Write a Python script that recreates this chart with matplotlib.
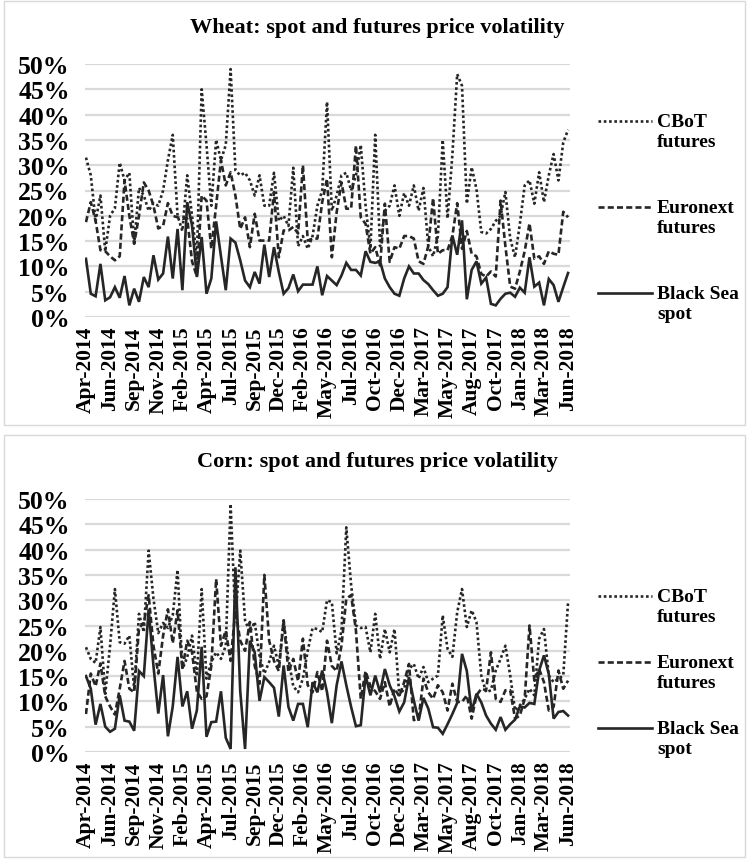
import numpy as np
import matplotlib
matplotlib.use("Agg")
import matplotlib.pyplot as plt
from matplotlib.lines import Line2D
from matplotlib.patches import Rectangle

# ---- semi-monthly observations, Apr-2014 .. Jun-2018 (volatility, %) ----
tick_labels = ["Apr-2014", "Jun-2014", "Sep-2014", "Nov-2014", "Feb-2015", "Apr-2015",
               "Jul-2015", "Sep-2015", "Dec-2015", "Feb-2016", "May-2016", "Jul-2016",
               "Oct-2016", "Dec-2016", "Mar-2017", "May-2017", "Aug-2017", "Oct-2017",
               "Jan-2018", "Mar-2018", "Jun-2018"]

wheat_cbot = [31.5, 28, 19, 24, 13, 20, 21.5, 30.5, 27, 28.5, 14.5, 25.5, 24, 21, 22.5, 22,
              25, 31, 36, 20, 17, 28, 20, 11.5, 45, 34, 22, 35, 31, 34, 49, 29, 28, 28.5,
              27, 24, 28, 22, 22, 28.5, 19, 20, 18, 29.5, 14, 16, 13.5, 16, 22, 25, 42.5,
              21, 24, 28, 28.5, 25, 28, 34, 22, 13.5, 36, 14, 21, 22, 26, 20, 24.5, 22, 26,
              21, 25.5, 14, 12, 16, 35, 19.5, 32, 48, 45.7, 22.4, 29.6, 25.3, 16.8, 16.5,
              17.4, 19, 20, 24.7, 15.5, 11.8, 18.4, 26, 27, 22.4, 28.6, 22.7, 28, 32.2, 27,
              34.5, 37]
wheat_euronext = [18.75, 22.7, 19, 13.2, 13, 12, 11.2, 12, 27, 20, 14.5, 20, 26.6, 25, 22,
                  17.5, 18, 22.5, 20, 19.7, 19.4, 19.5, 11, 8, 24, 23, 13.5, 22, 31, 26,
                  28.6, 24, 17.4, 19.7, 13.8, 20.4, 15.1, 15.1, 15.1, 24.7, 11.8, 17.1,
                  17.1, 17.8, 16.5, 30, 15.1, 15.5, 15.5, 22.7, 27.3, 11.8, 20.7, 26.6,
                  21.4, 21.4, 33.9, 19.7, 18.4, 12.5, 13.8, 10.2, 22.4, 10.9, 13.8, 13.5,
                  16, 16, 15.5, 11, 10.5, 14, 23.5, 12.5, 13.2, 13.2, 16, 22.5, 13.5, 17,
                  12.5, 12, 8.5, 8, 9, 8, 23, 14, 6, 5.6, 9, 13, 18.5, 11.5, 12, 10.5, 13,
                  12.5, 12.3, 20.8, 19.7]
wheat_blacksea = [11.5, 4.6, 4.1, 10.5, 3.3, 3.9, 5.9, 3.8, 8.1, 2.3, 5.6, 3.0, 7.9, 5.9,
                  12.2, 7.4, 8.6, 15.9, 7.6, 17.4, 5.3, 22.7, 18.1, 7.9, 15.8, 4.6, 7.6,
                  18.9, 12.0, 5.3, 15.5, 14.7, 11.2, 7.2, 5.9, 8.9, 6.6, 14.3, 7.9, 13.8,
                  8.9, 4.6, 5.7, 8.4, 5.1, 6.4, 6.4, 6.4, 10.0, 4.3, 8.1, 7.2, 6.3, 8.2,
                  10.7, 9.3, 9.3, 8.2, 13.0, 10.9, 10.7, 11.0, 7.6, 5.9, 4.6, 4.2, 7.6,
                  10.0, 8.6, 8.6, 7.3, 6.5, 5.3, 4.2, 4.6, 5.9, 16.1, 12.3, 19.1, 3.5, 9.3,
                  11.0, 6.6, 7.8, 2.6, 2.3, 3.6, 4.6, 4.8, 4.0, 5.8, 4.8, 11.8, 6.0, 6.8,
                  2.3, 7.5, 6.3, 3.0, 5.9, 8.7]

corn_cbot = [20.7, 18.4, 17.6, 24.7, 11.5, 21, 32.2, 21.7, 21.4, 23, 12.5, 27.3, 23.7,
             39.8, 30.3, 23.5, 25.5, 24.5, 27, 36, 16.4, 18.7, 23, 15, 32.2, 14.5, 17.8,
             19.7, 18.4, 21, 49, 26, 39.8, 26, 23.7, 25.7, 19, 15.5, 17.8, 21, 17, 26,
             18.4, 13, 11.8, 14.5, 20, 24.5, 24.3, 23.7, 30, 29.6, 19.5, 24, 44.4, 33, 25,
             24.5, 24.7, 19.7, 27.3, 18.4, 24.3, 19.7, 24.3, 11.2, 12.5, 16.4, 17.4,
             14.5, 16.8, 13.8, 14.5, 15.1, 27, 20.4, 18.8, 27.6, 32.2, 24.7, 28, 25.7,
             15.1, 11.8, 12.2, 16.1, 18.4, 21, 15.1, 8.2, 9.2, 10.5, 12.5, 11.2, 22.4,
             24.3, 15.1, 13.8, 14.5, 15.1, 29.6]
corn_euronext = [7.5, 15.5, 13, 17.5, 11, 9, 7.4, 12.5, 18, 12.5, 11.8, 24.5, 25.5, 31,
                 21, 15.5, 23, 28.2, 21.5, 28, 16.4, 22, 19.7, 12, 10.5, 11, 17, 34.2, 21,
                 24, 18, 28, 22, 20, 25.7, 17, 13.5, 35, 22, 18, 16, 26, 15.8, 18.4, 14,
                 22.4, 13.2, 11.8, 15.8, 12, 22, 17, 16, 21, 30.3, 31, 24, 10.5, 16, 13,
                 12, 10.5, 13.8, 9, 12.5, 11, 13.8, 17.4, 6.3, 6.6, 14.5, 11.8, 10.5, 13.2,
                 11.8, 8.2, 13.5, 9.9, 9.9, 11.2, 6.6, 11.2, 12.5, 12.2, 19.7, 10.5, 9.9,
                 12.2, 12.2, 6.6, 7.2, 10.5, 25, 14.1, 16.4, 13.8, 8.2, 8.9, 16.1, 12.5,
                 14.1]
corn_blacksea = [15, 12.5, 5.4, 9.5, 5, 4, 4.6, 11.2, 6.2, 6, 4.2, 16, 15, 28.2, 17, 7.6,
                 15.2, 3.1, 9, 18.8, 9, 12, 4.6, 8.2, 20.8, 3, 5.9, 6, 12, 2.8, 0.6, 36.5,
                 12, 0.6, 22, 19.7, 10.1, 14.8, 13.8, 12.7, 7, 17.1, 8.9, 6.2, 9.5, 9.5,
                 4.9, 13.8, 11.8, 16.1, 11.8, 5.7, 13.2, 17.9, 13.2, 8.9, 5.1, 5.3, 15.1,
                 11.2, 15.1, 11.8, 16.4, 13.2, 11, 8, 9.8, 14.8, 10.2, 6.2, 10.7, 8.6, 4.9,
                 4.8, 3.6, 5.5, 7.5, 9.7, 19.4, 16, 8, 11.5, 9.8, 7.2, 5.6, 4.4, 6.9, 4.4,
                 5.5, 6.4, 9, 8.8, 9.7, 9.5, 16.1, 19.1, 15.4, 6.6, 7.9, 8.1, 7.2]

series_names = ["CBoT\nfutures", "Euronext\nfutures", "Black Sea\nspot"]

W, H = 749, 862
FONT = "Liberation Serif"
INK = "#262626"
GRID = "#d9d9d9"

plt.rcParams["font.family"] = [FONT, "DejaVu Serif"]
plt.rcParams["font.weight"] = "bold"

fig = plt.figure(figsize=(W / 100, H / 100), dpi=100)


def fx(x):
    return x / W


def fy(y):
    return 1 - y / H


styles = [
    dict(linestyle=(0, (1, 1)), dash_capstyle="butt"),
    dict(linestyle=(0, (2.3, 1.2)), dash_capstyle="butt"),
    dict(linestyle="-", solid_joinstyle="miter"),
]
LW = 1.9


def panel(box_top, box_bottom, plot_top, plot_bottom, title, title_y, series, legend_ys):
    # chart-area frame
    fig.add_artist(Rectangle((fx(4), fy(box_bottom)), fx(745) - fx(4),
                             fy(box_top) - fy(box_bottom), transform=fig.transFigure,
                             fill=False, edgecolor=GRID, linewidth=1.0))
    fig.text(fx(377), fy(title_y), title, ha="center", va="center",
             fontsize=16, fontweight="bold", color="black")

    ax = fig.add_axes([fx(85), fy(plot_bottom), fx(570) - fx(85),
                       fy(plot_top) - fy(plot_bottom)])
    x = np.arange(len(series[0]))
    for vals, st in zip(series, styles):
        ax.plot(x, np.asarray(vals) / 100.0, color=INK, linewidth=LW, **st)

    ax.set_xlim(-0.2, 100.4)
    ax.set_ylim(0, 0.5)
    ax.set_yticks(np.arange(0, 0.501, 0.05))
    ax.set_yticklabels([f"{int(round(v * 100))}%" for v in np.arange(0, 0.501, 0.05)])
    ax.set_xticks(np.arange(0, len(series[0]), 5))
    ax.set_xticklabels(tick_labels, rotation=90)
    ax.tick_params(axis="both", length=0, colors="black")
    ax.tick_params(axis="x", pad=6, labelsize=15.5)
    ax.tick_params(axis="y", pad=11, labelsize=18.5)
    for lab in ax.get_xticklabels() + ax.get_yticklabels():
        lab.set_fontweight("bold")
    ax.grid(axis="y", color=GRID, linewidth=1.6)
    ax.set_axisbelow(True)
    for s in ax.spines.values():
        s.set_visible(False)

    # legend: sample line level with the first text line
    for name, st, ly in zip(series_names, styles, legend_ys):
        fig.add_artist(Line2D([fx(598), fx(652)], [fy(ly), fy(ly)],
                              transform=fig.transFigure, color=INK, linewidth=LW, **st))
        fig.text(fx(657), fy(ly - 8), name, ha="left", va="top", fontsize=14,
                 fontweight="bold", color="black", linespacing=1.2)
    return ax


panel(2, 426, 65, 318, "Wheat: spot and futures price volatility", 28,
      [wheat_cbot, wheat_euronext, wheat_blacksea], [122, 208, 294])
panel(436, 858, 500, 753, "Corn: spot and futures price volatility", 462,
      [corn_cbot, corn_euronext, corn_blacksea], [597, 663, 729])

fig.savefig("out.png", dpi=100)
